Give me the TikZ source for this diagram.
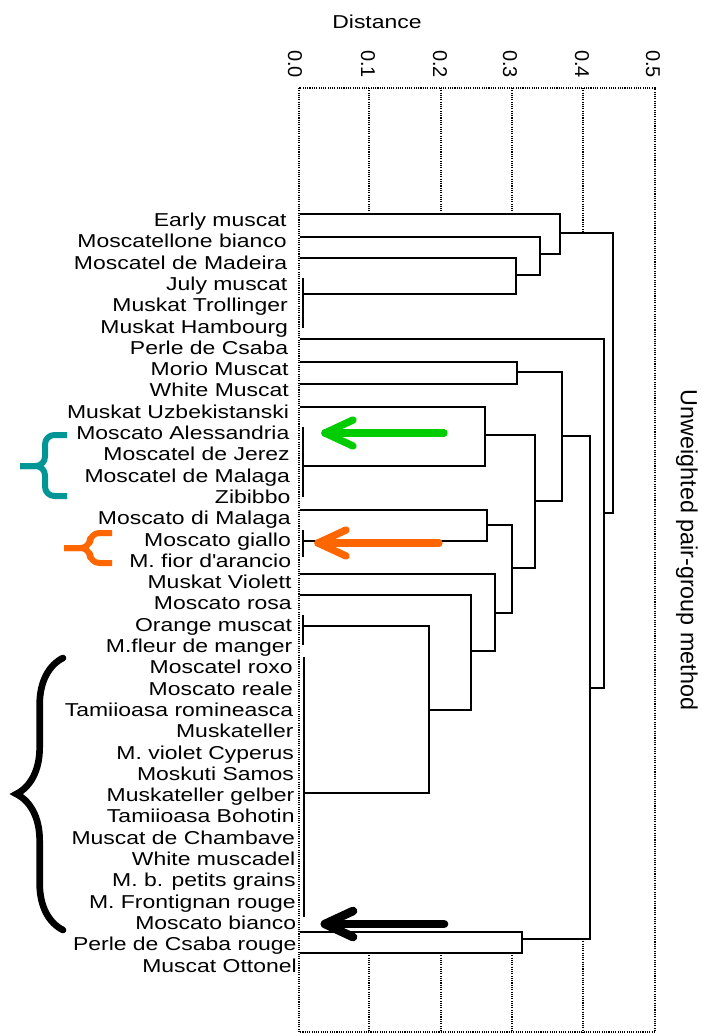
\documentclass[tikz,border=0pt]{standalone}
\usepackage{fontspec}
\setmainfont{Liberation Sans}
\newfontfamily\lblfont{Liberation Sans}[FakeStretch=1.23]
\usetikzlibrary{calc,decorations.pathreplacing}

\definecolor{arrowgreen}{RGB}{0,204,0}
\definecolor{arroworange}{RGB}{255,102,0}
\definecolor{braceteal}{RGB}{0,150,150}

\tikzset{every picture/.style={line width=0.75pt}}
\tikzset{
  leaf/.style={anchor=base east, inner sep=0pt, font=\lblfont\fontsize{14pt}{16pt}\selectfont},
  tick/.style={rotate=-90, inner sep=0pt, font=\fontsize{15pt}{18pt}\selectfont},
  dend/.style={line width=1.8pt},
  grid/.style={line width=0.8pt, dash pattern=on 0.8pt off 0.9pt},
  pointer/.style={line width=5.5pt, line cap=round, line join=round},
  bracebar/.style={line width=4.5pt, line join=round, rounded corners=7pt},
}

\begin{document}
\begin{tikzpicture}[x=0.75pt,y=0.75pt,yscale=-1,xscale=1]
\path[use as bounding box] (0,0) rectangle (702,1033);

%Frame and grid
\draw[grid] (299,88) rectangle (655,1032);
\draw[grid] (369,88) -- (369,214);
\draw[grid] (441,88) -- (441,214);
\draw[grid] (512,88) -- (512,214);
\draw[grid] (583,88) -- (583,233);
\draw[grid] (369,953) -- (369,1032);
\draw[grid] (441,953) -- (441,1032);
\draw[grid] (512,953) -- (512,1032);
\draw[grid] (583,939) -- (583,1032);

% Text Node
\node[leaf, anchor=center] (dist) at (377,22) {Distance};
\node[tick] (t0) at (295,64) {0.0};
\node[tick] (t1) at (368,64) {0.1};
\node[tick] (t2) at (440,64) {0.2};
\node[tick] (t3) at (510,64) {0.3};
\node[tick] (t4) at (582,64) {0.4};
\node[tick] (t5) at (653,64) {0.5};
\node[rotate=-90, inner sep=0pt, font=\fontsize{17.5pt}{20pt}\selectfont] (method) at (687,550) {Unweighted pair-group method};

% Leaf labels
\node[leaf] (l01) at (287.0,226.5) {Early muscat};
\node[leaf] (l02) at (287.3,247.8) {Moscatellone bianco};
\node[leaf] (l03) at (287.6,269.1) {Moscatel de Madeira};
\node[leaf] (l04) at (287.9,290.4) {July muscat};
\node[leaf] (l05) at (288.2,311.7) {Muskat Trollinger};
\node[leaf] (l06) at (288.5,333.0) {Muskat Hambourg};
\node[leaf] (l07) at (288.7,354.3) {Perle de Csaba};
\node[leaf] (l08) at (289.0,375.6) {Morio Muscat};
\node[leaf] (l09) at (289.3,396.9) {White Muscat};
\node[leaf] (l10) at (289.6,418.2) {Muskat Uzbekistanski};
\node[leaf] (l11) at (289.9,439.5) {Moscato Alessandria};
\node[leaf] (l12) at (290.2,460.8) {Moscatel de Jerez};
\node[leaf] (l13) at (290.5,482.1) {Moscatel de Malaga};
\node[leaf] (l14) at (290.8,503.4) {Zibibbo};
\node[leaf] (l15) at (291.1,524.7) {Moscato di Malaga};
\node[leaf] (l16) at (291.4,546.0) {Moscato giallo};
\node[leaf] (l17) at (291.6,567.3) {M. fior d\textquotesingle arancio};
\node[leaf] (l18) at (291.9,588.6) {Muskat Violett};
\node[leaf] (l19) at (292.2,609.9) {Moscato rosa};
\node[leaf] (l20) at (292.5,631.2) {Orange muscat};
\node[leaf] (l21) at (292.8,652.5) {M.fleur de manger};
\node[leaf] (l22) at (293.1,673.8) {Moscatel roxo};
\node[leaf] (l23) at (293.4,695.1) {Moscato reale};
\node[leaf] (l24) at (293.7,716.4) {Tamiioasa romineasca};
\node[leaf] (l25) at (294.0,737.7) {Muskateller};
\node[leaf] (l26) at (294.3,759.0) {M. violet Cyperus};
\node[leaf] (l27) at (294.5,780.3) {Moskuti Samos};
\node[leaf] (l28) at (294.8,801.6) {Muskateller gelber};
\node[leaf] (l29) at (295.1,822.9) {Tamiioasa Bohotin};
\node[leaf] (l30) at (295.4,844.2) {Muscat de Chambave};
\node[leaf] (l31) at (295.7,865.5) {White muscadel};
\node[leaf] (l32) at (296.0,886.8) {M. b. petits grains};
\node[leaf] (l33) at (296.3,908.1) {M. Frontignan rouge};
\node[leaf] (l34) at (296.6,929.4) {Moscato bianco};
\node[leaf] (l35) at (296.9,950.7) {Perle de Csaba rouge};
\node[leaf] (l36) at (297.2,972.0) {Muscat Ottonel};

%Dendrogram
\draw[dend] (303,278) -- (303,328);
\draw[dend] (303,294) -- (516,294) -- (516,258) -- (300,258);
\draw[dend] (516,275) -- (540,275) -- (540,237) -- (300,237);
\draw[dend] (540,254) -- (560,254) -- (560,214) -- (300,214);
\draw[dend] (560,233) -- (613,233) -- (613,513) -- (604,513);
\draw[dend] (300,339) -- (604,339) -- (604,688) -- (590,688);
\draw[dend] (300,362) -- (517,362) -- (517,384) -- (300,384);
\draw[dend] (517,372) -- (562,372) -- (562,501) -- (535,501);
\draw[dend] (562,436) -- (590,436) -- (590,939) -- (522,939);
\draw[dend] (303,427) -- (303,497);
\draw[dend] (300,407) -- (485,407) -- (485,466) -- (303,466);
\draw[dend] (485,435) -- (535,435) -- (535,568) -- (512,568);
\draw[dend] (303,530) -- (303,557);
\draw[dend] (300,510) -- (487,510) -- (487,541) -- (303,541);
\draw[dend] (487,525) -- (512,525) -- (512,613) -- (495,613);
\draw[dend] (300,574) -- (495,574) -- (495,651) -- (471,651);
\draw[dend] (300,595) -- (471,595) -- (471,710) -- (429,710);
\draw[dend] (303,615) -- (303,645);
\draw[dend] (304,657) -- (304,917);
\draw[dend] (303,626) -- (429,626) -- (429,793) -- (304,793);
\draw[dend] (300,932) -- (522,932) -- (522,953) -- (300,953);

%Arrows
\coordinate (gtip) at (325,433);
\coordinate (gtail) at (444,433);
\draw[pointer, arrowgreen] (gtail) -- (gtip);
\draw[pointer, arrowgreen] ($(gtip)+(28,-13)$) -- (gtip) -- ($(gtip)+(28,13)$);
\coordinate (otip) at (318,543);
\coordinate (otail) at (439,543);
\draw[pointer, arroworange] (otail) -- (otip);
\draw[pointer, arroworange] ($(otip)+(28,-13)$) -- (otip) -- ($(otip)+(28,13)$);
\coordinate (btip) at (325,924);
\coordinate (btail) at (444,924);
\draw[pointer, line width=6.5pt] (btail) -- (btip);
\draw[pointer, line width=6.5pt] ($(btip)+(28,-13)$) -- (btip) -- ($(btip)+(28,13)$);

%Braces
\draw[bracebar, braceteal] (67,435) -- (45,435) -- (45,466) -- (20,466);
\draw[bracebar, braceteal] (67,496) -- (45,496) -- (45,466) -- (20,466);
\draw[bracebar, arroworange] (112,533) -- (90,533) -- (90,548) -- (64,548);
\draw[bracebar, arroworange] (112,563) -- (90,563) -- (90,548) -- (64,548);
\draw[decorate, decoration={brace, amplitude=35pt}, line width=5pt, line cap=round] (63,930) -- (63,658);

\end{tikzpicture}
\end{document}
